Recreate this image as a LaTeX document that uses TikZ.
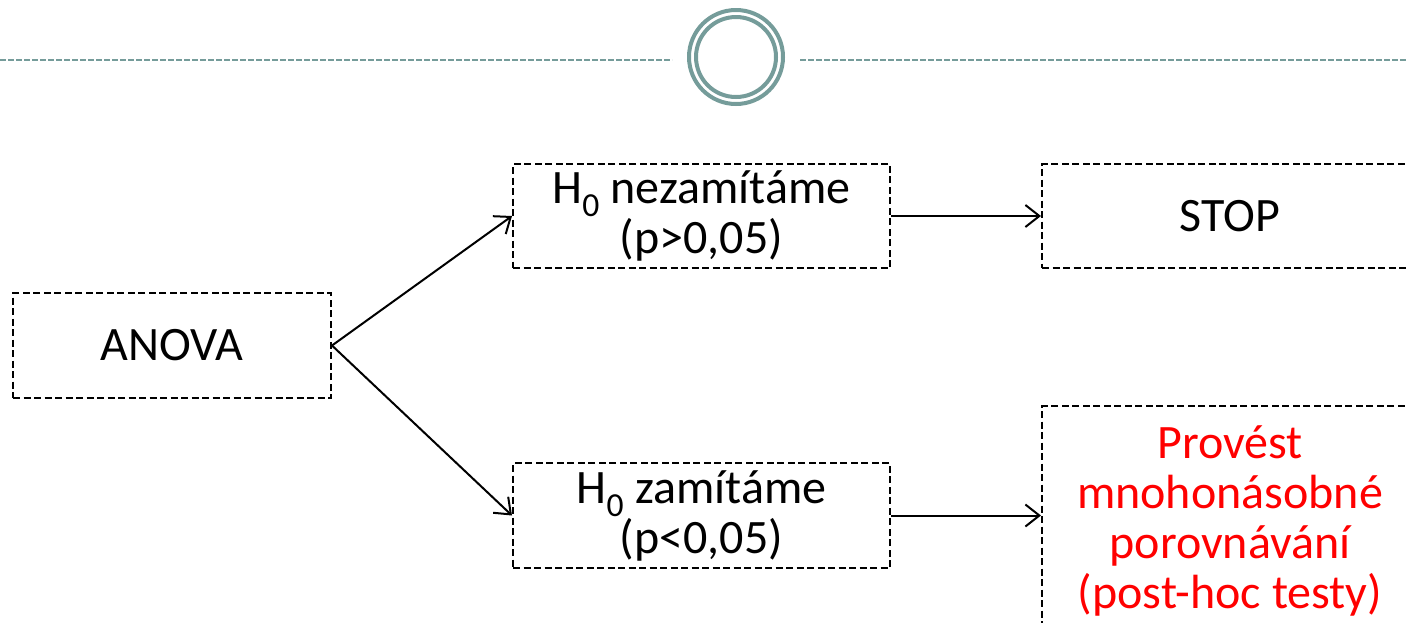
\documentclass[tikz,border=0pt]{standalone}
\usepackage{fontspec}
\setmainfont{Carlito}
\usetikzlibrary{arrows.meta}
\definecolor{ringc}{HTML}{759C9A}
\definecolor{redt}{HTML}{FF0000}
\tikzset{
  box/.style={draw=black, line width=2pt, dash pattern=on 7pt off 3.5pt, rectangle, inner sep=0pt,
    font=\fontsize{48}{50}\selectfont, align=center},
  conn/.style={draw=black, line width=2pt, -{Straight Barb[length=14pt,width=22pt,line width=2pt]}},
  rule/.style={draw=ringc, line width=1.5pt, dash pattern=on 6pt off 2pt},
  ring/.style={draw=ringc, line width=4pt}
}
\begin{document}
\begin{tikzpicture}[x=1pt,y=-1pt]
\useasboundingbox (0,0) rectangle (1408,622);
\coordinate (l1) at (0,60);
\coordinate (l2) at (672,60);
\coordinate (r1) at (800,60);
\coordinate (r2) at (1408,60);
\draw[rule] (l1) -- (l2);
\draw[rule] (r1) -- (r2);
\node[ring, circle, minimum size=94pt, inner sep=0pt] (outer) at (736,57) {};
\node[ring, circle, minimum size=80pt, inner sep=0pt] (inner) at (736,57) {};

\node[box, minimum width=318pt, minimum height=105pt] (anova) at (172,345.5) {ANOVA};
\node[box, minimum width=377pt, minimum height=104pt] (nez) at (701.5,216) {H\textsubscript{0} nezamítáme\\(p>0,05)};
\node[box, minimum width=377pt, minimum height=105pt] (zam) at (701.5,515.5) {H\textsubscript{0} zamítáme\\(p<0,05)};
\node[box, minimum width=376pt, minimum height=104pt] (stop) at (1230,216) {STOP};
\node[box, minimum width=376pt, minimum height=230pt, text=redt] (post) at (1230,521) {Provést\\mnohonásobné\\porovnávání\\(post-hoc testy)};

\draw[conn] (anova.east) -- (nez.west);
\draw[conn] (anova.east) -- (zam.west);
\draw[conn] (nez.east) -- (stop.west |- nez.east);
\draw[conn] (zam.east) -- (post.west |- zam.east);
\end{tikzpicture}
\end{document}
